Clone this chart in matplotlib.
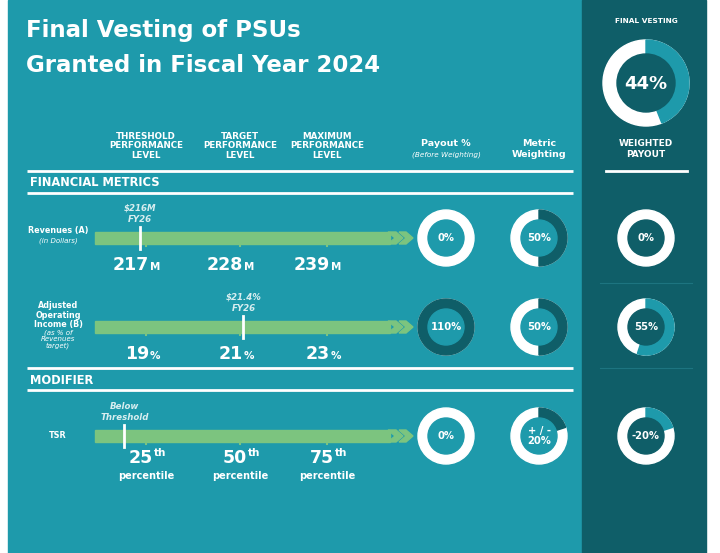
import matplotlib.pyplot as plt
from matplotlib.patches import Rectangle, Wedge, Circle, Polygon

TEAL = "#1e9aab"
DARK = "#0f5e68"
GREEN = "#7cc47f"
WHITE = "white"

title_lines = ["Final Vesting of PSUs", "Granted in Fiscal Year 2024"]
level_headers = ["THRESHOLD\nPERFORMANCE\nLEVEL", "TARGET\nPERFORMANCE\nLEVEL", "MAXIMUM\nPERFORMANCE\nLEVEL"]
metric_names = ["Revenues (A)", "Adjusted\nOperating\nIncome (B)", "TSR"]
metric_notes = ["(in Dollars)", "(as % of\nRevenues\ntarget)", ""]
level_values = [["217", "228", "239"], ["19", "21", "23"], ["25", "50", "75"]]
level_units = ["M", "%", "th"]
actual_labels = ["$216M\nFY26", "$21.4%\nFY26", "Below\nThreshold"]
actual_pos = [-0.06, 1.04, -0.23]       # position on the level scale (0=threshold, 1=target, 2=max)
payout_pct = [0, 110, 0]
payout_text = ["0%", "110%", "0%"]
weight_frac = [0.50, 0.50, 0.20]
weight_text = ["50%", "50%", "+ / -\n20%"]
weighted_frac = [0.0, 0.55, 0.20]
weighted_text = ["0%", "55%", "-20%"]
final_vesting = 44

fig = plt.figure(figsize=(7.2, 5.53), dpi=100)
ax = fig.add_axes([0, 0, 1, 1])
ax.set_xlim(0, 720)
ax.set_ylim(553, 0)
ax.axis("off")

ax.add_patch(Rectangle((8, 0), 574, 553, color=TEAL))
ax.add_patch(Rectangle((582, 0), 124, 553, color=DARK))

for i, t in enumerate(title_lines):
    ax.text(26, 31 + 35 * i, t, color=WHITE, fontsize=16.5, fontweight="bold", va="center")

level_x = [146, 240, 327]
for x, h in zip(level_x, level_headers):
    ax.text(x, 146, h, color=WHITE, fontsize=6.3, fontweight="bold", ha="center", va="center", linespacing=1.1)
ax.text(446, 143, "Payout %", color=WHITE, fontsize=6.8, fontweight="bold", ha="center", va="center")
ax.text(446, 155, "(Before Weighting)", color=WHITE, fontsize=5.2, style="italic", ha="center", va="center")
ax.text(539, 149, "Metric\nWeighting", color=WHITE, fontsize=6.8, fontweight="bold", ha="center", va="center")
ax.text(646, 21, "FINAL VESTING", color=WHITE, fontsize=5.3, fontweight="bold", ha="center", va="center")
ax.text(646, 149, "WEIGHTED\nPAYOUT", color=WHITE, fontsize=6.5, fontweight="bold", ha="center", va="center")

for y in [171, 193, 368, 390]:
    ax.plot([27, 573], [y, y], color=WHITE, lw=2, solid_capstyle="butt")
ax.plot([606, 687], [171, 171], color=WHITE, lw=2)
for y in [283, 368]:
    ax.plot([600, 692], [y, y], color="#1d7480", lw=0.8)
ax.text(30, 183, "FINANCIAL METRICS", color=WHITE, fontsize=8.3, fontweight="bold", va="center")
ax.text(30, 380, "MODIFIER", color=WHITE, fontsize=8.3, fontweight="bold", va="center")


def donut(cx, cy, r_out, r_in, frac, fill, inner):
    ax.add_patch(Circle((cx, cy), r_out, color=WHITE))
    if frac > 0:
        a = min(frac, 1.0) * 360
        # y axis is inverted, so increasing angle goes clockwise on screen
        ax.add_patch(Wedge((cx, cy), r_out, -90, -90 + a, color=fill))
    ax.add_patch(Circle((cx, cy), r_in, color=inner))


row_y = [238, 327, 436]
for i, y in enumerate(row_y):
    if i == 0:
        ax.text(58, y - 8, metric_names[i], color=WHITE, fontsize=5.8, fontweight="bold", ha="center", va="center")
        ax.text(58, y + 3, metric_notes[i], color=WHITE, fontsize=5, style="italic", ha="center", va="center")
    elif i == 1:
        ax.text(58, y - 12, metric_names[i], color=WHITE, fontsize=5.8, fontweight="bold", ha="center",
                va="center", linespacing=1.1)
        ax.text(58, y + 12, metric_notes[i], color=WHITE, fontsize=5, style="italic", ha="center", va="center",
                linespacing=1.0)
    else:
        ax.text(58, y, metric_names[i], color=WHITE, fontsize=5.8, fontweight="bold", ha="center", va="center")

    # green arrow bar with chevrons
    ax.add_patch(Rectangle((95, y - 6), 295, 12, color=GREEN))
    ax.add_patch(Polygon([(388, y - 6), (396, y - 6), (403, y), (396, y + 6), (388, y + 6), (395, y)], color=GREEN))
    ax.add_patch(Polygon([(399, y - 6), (406, y - 6), (413, y), (406, y + 6), (399, y + 6), (406, y)], color=GREEN))
    for x in level_x:
        ax.plot([x, x], [y + 6, y + 8], color=GREEN, lw=1.5)

    # actual result marker
    p = actual_pos[i]
    if p <= 1:
        mx = level_x[0] + p * (level_x[1] - level_x[0])
    else:
        mx = level_x[1] + (p - 1) * (level_x[2] - level_x[1])
    ax.plot([mx, mx], [y - 11, y + 11], color=WHITE, lw=2)
    ax.text(mx, y - 24, actual_labels[i], color="#d8eef0", fontsize=6.2, fontweight="bold", style="italic",
            ha="center", va="center", linespacing=1.3)

    # level values
    for x, v in zip(level_x, level_values[i]):
        if i < 2:
            vy = y + 27
            ax.text(x + 3, vy, v, color=WHITE, fontsize=12.5, fontweight="bold", ha="right", va="center")
            ax.text(x + 4, vy + 2, level_units[i], color=WHITE, fontsize=7.5, fontweight="bold",
                    ha="left", va="center")
        else:
            vy = y + 22
            ax.text(x + 7, vy, v, color=WHITE, fontsize=12.5, fontweight="bold", ha="right", va="center")
            ax.text(x + 8, vy - 5, level_units[i], color=WHITE, fontsize=7.5, fontweight="bold",
                    ha="left", va="center")
            ax.text(x, vy + 18, "percentile", color=WHITE, fontsize=7, fontweight="bold", ha="center", va="center")

    donut(446, y, 28, 18, payout_pct[i] / 100, DARK, TEAL)
    ax.text(446, y, payout_text[i], color=WHITE, fontsize=7.2, fontweight="bold", ha="center", va="center")
    donut(539, y, 28, 18, weight_frac[i], DARK, TEAL)
    ax.text(539, y, weight_text[i], color=WHITE, fontsize=7.2, fontweight="bold", ha="center", va="center",
            linespacing=1.0)
    donut(646, y, 28, 18, weighted_frac[i], TEAL, DARK)
    ax.text(646, y, weighted_text[i], color=WHITE, fontsize=7.2, fontweight="bold", ha="center", va="center")

donut(646, 83, 43, 29, final_vesting / 100, TEAL, DARK)
ax.text(646, 84, f"{final_vesting}%", color=WHITE, fontsize=13, fontweight="bold", ha="center", va="center")

fig.savefig("out.png", dpi=100)
